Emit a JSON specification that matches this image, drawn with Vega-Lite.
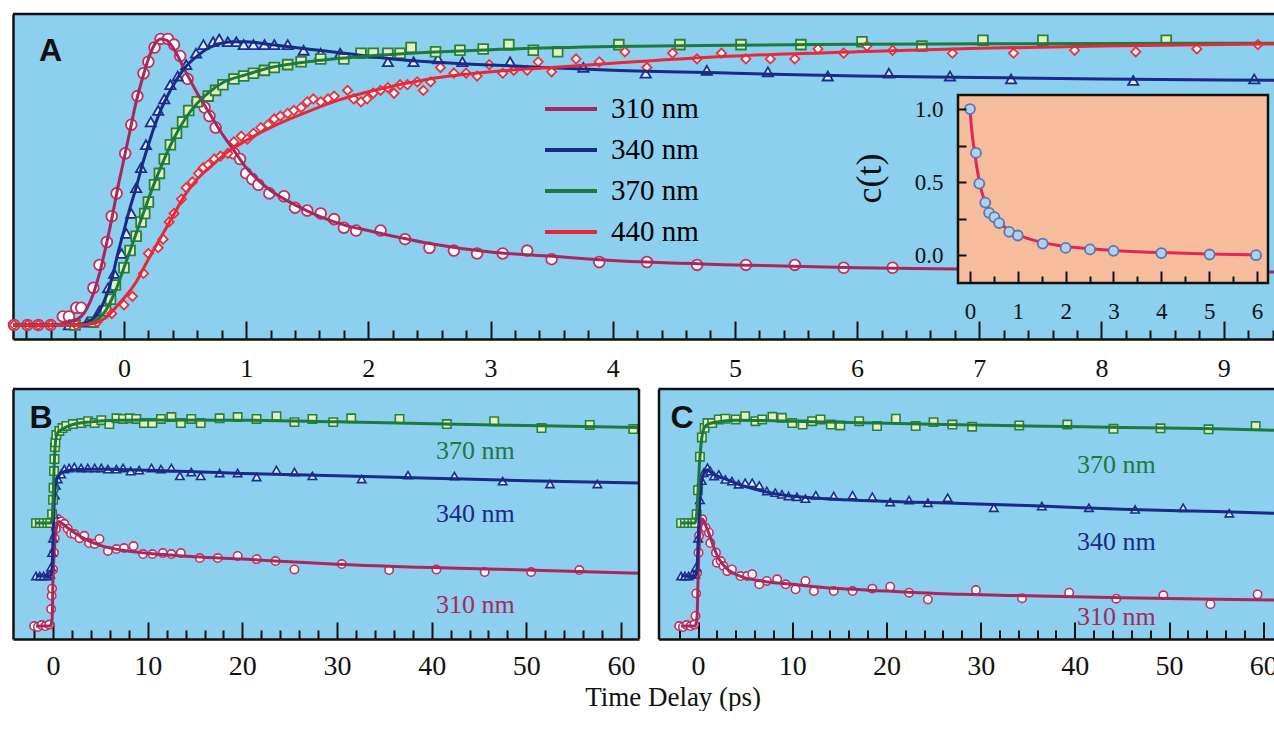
{
"$schema": "https://vega.github.io/schema/vega-lite/v6.json",
"background": "white",
"padding": {"left": 5, "top": 12, "right": -4, "bottom": 0},
"config": {
  "font": "Liberation Serif",
  "view": {"stroke": null, "fill": "#8CCFEF"},
  "axis": {"grid": false, "domainColor": "#111111", "domainWidth": 2.5, "tickColor": "#111111", "tickWidth": 2, "tickOpacity": 1, "labelFont": "Liberation Serif", "labelColor": "#111111", "titleFont": "Liberation Serif", "titleColor": "#111111", "labelOverlap": false, "labelFlush": false, "labelBound": false},
  "legend": {"labelFont": "Liberation Serif"}
},
"resolve": {"legend": {"color": "independent"}},
"datasets": {
  "a_pts": [
    {"s":"310 nm","t":-0.9,"v":0},{"s":"310 nm","t":-0.79,"v":0},{"s":"310 nm","t":-0.7,"v":0},{"s":"310 nm","t":-0.6,"v":0},{"s":"310 nm","t":-0.5,"v":0.03},{"s":"310 nm","t":-0.45,"v":0.03},{"s":"310 nm","t":-0.39,"v":0.06},{"s":"310 nm","t":-0.35,"v":0.06},{"s":"310 nm","t":-0.25,"v":0.13},{"s":"310 nm","t":-0.2,"v":0.21},{"s":"310 nm","t":-0.14,"v":0.29},{"s":"310 nm","t":-0.1,"v":0.38},{"s":"310 nm","t":-0.06,"v":0.46},{"s":"310 nm","t":0.01,"v":0.6},{"s":"310 nm","t":0.06,"v":0.7},{"s":"310 nm","t":0.11,"v":0.8},{"s":"310 nm","t":0.16,"v":0.88},{"s":"310 nm","t":0.2,"v":0.92},{"s":"310 nm","t":0.25,"v":0.97},{"s":"310 nm","t":0.3,"v":1.0},{"s":"310 nm","t":0.36,"v":1.0},{"s":"310 nm","t":0.41,"v":0.98},{"s":"310 nm","t":0.46,"v":0.94},{"s":"310 nm","t":0.52,"v":0.86},{"s":"310 nm","t":0.6,"v":0.78},{"s":"310 nm","t":0.66,"v":0.76},{"s":"310 nm","t":0.7,"v":0.73},{"s":"310 nm","t":0.75,"v":0.69},{"s":"310 nm","t":0.9,"v":0.6},{"s":"310 nm","t":0.95,"v":0.58},{"s":"310 nm","t":1.0,"v":0.53},{"s":"310 nm","t":1.05,"v":0.51},{"s":"310 nm","t":1.1,"v":0.49},{"s":"310 nm","t":1.19,"v":0.46},{"s":"310 nm","t":1.31,"v":0.45},{"s":"310 nm","t":1.4,"v":0.41},{"s":"310 nm","t":1.5,"v":0.4},{"s":"310 nm","t":1.61,"v":0.39},{"s":"310 nm","t":1.72,"v":0.37},{"s":"310 nm","t":1.8,"v":0.34},{"s":"310 nm","t":1.9,"v":0.33},{"s":"310 nm","t":2.1,"v":0.33},{"s":"310 nm","t":2.3,"v":0.3},{"s":"310 nm","t":2.5,"v":0.27},{"s":"310 nm","t":2.7,"v":0.26},{"s":"310 nm","t":2.89,"v":0.25},{"s":"310 nm","t":3.1,"v":0.25},{"s":"310 nm","t":3.3,"v":0.26},{"s":"310 nm","t":3.5,"v":0.23},{"s":"310 nm","t":3.89,"v":0.22},{"s":"310 nm","t":4.28,"v":0.22},{"s":"310 nm","t":4.69,"v":0.21},{"s":"310 nm","t":5.09,"v":0.21},{"s":"310 nm","t":5.49,"v":0.21},{"s":"310 nm","t":5.89,"v":0.2},{"s":"310 nm","t":6.29,"v":0.2},
    {"s":"340 nm","t":-0.45,"v":0},{"s":"340 nm","t":-0.3,"v":0.01},{"s":"340 nm","t":-0.2,"v":0.05},{"s":"340 nm","t":-0.13,"v":0.13},{"s":"340 nm","t":-0.08,"v":0.18},{"s":"340 nm","t":-0.02,"v":0.25},{"s":"340 nm","t":0.02,"v":0.32},{"s":"340 nm","t":0.06,"v":0.39},{"s":"340 nm","t":0.1,"v":0.48},{"s":"340 nm","t":0.14,"v":0.55},{"s":"340 nm","t":0.18,"v":0.63},{"s":"340 nm","t":0.22,"v":0.71},{"s":"340 nm","t":0.28,"v":0.75},{"s":"340 nm","t":0.33,"v":0.79},{"s":"340 nm","t":0.38,"v":0.84},{"s":"340 nm","t":0.44,"v":0.87},{"s":"340 nm","t":0.51,"v":0.91},{"s":"340 nm","t":0.59,"v":0.95},{"s":"340 nm","t":0.65,"v":0.98},{"s":"340 nm","t":0.73,"v":0.99},{"s":"340 nm","t":0.78,"v":1.0},{"s":"340 nm","t":0.85,"v":0.99},{"s":"340 nm","t":0.92,"v":0.99},{"s":"340 nm","t":0.98,"v":0.98},{"s":"340 nm","t":1.06,"v":0.98},{"s":"340 nm","t":1.15,"v":0.98},{"s":"340 nm","t":1.23,"v":0.98},{"s":"340 nm","t":1.34,"v":0.98},{"s":"340 nm","t":1.47,"v":0.96},{"s":"340 nm","t":1.61,"v":0.95},{"s":"340 nm","t":1.77,"v":0.95},{"s":"340 nm","t":2.16,"v":0.92},{"s":"340 nm","t":2.37,"v":0.92},{"s":"340 nm","t":2.57,"v":0.93},{"s":"340 nm","t":2.77,"v":0.92},{"s":"340 nm","t":3.16,"v":0.92},{"s":"340 nm","t":3.76,"v":0.9},{"s":"340 nm","t":4.27,"v":0.88},{"s":"340 nm","t":4.77,"v":0.89},{"s":"340 nm","t":5.27,"v":0.885},{"s":"340 nm","t":5.76,"v":0.87},{"s":"340 nm","t":6.26,"v":0.88},{"s":"340 nm","t":6.76,"v":0.87},{"s":"340 nm","t":7.26,"v":0.86},{"s":"340 nm","t":8.26,"v":0.855},{"s":"340 nm","t":9.25,"v":0.86},
    {"s":"370 nm","t":-0.4,"v":0},{"s":"370 nm","t":-0.25,"v":0.01},{"s":"370 nm","t":-0.15,"v":0.05},{"s":"370 nm","t":-0.11,"v":0.09},{"s":"370 nm","t":-0.07,"v":0.14},{"s":"370 nm","t":0.0,"v":0.2},{"s":"370 nm","t":0.05,"v":0.26},{"s":"370 nm","t":0.1,"v":0.31},{"s":"370 nm","t":0.14,"v":0.36},{"s":"370 nm","t":0.17,"v":0.39},{"s":"370 nm","t":0.2,"v":0.43},{"s":"370 nm","t":0.25,"v":0.49},{"s":"370 nm","t":0.29,"v":0.53},{"s":"370 nm","t":0.33,"v":0.58},{"s":"370 nm","t":0.38,"v":0.63},{"s":"370 nm","t":0.43,"v":0.67},{"s":"370 nm","t":0.48,"v":0.71},{"s":"370 nm","t":0.53,"v":0.75},{"s":"370 nm","t":0.6,"v":0.78},{"s":"370 nm","t":0.69,"v":0.8},{"s":"370 nm","t":0.75,"v":0.82},{"s":"370 nm","t":0.81,"v":0.84},{"s":"370 nm","t":0.9,"v":0.86},{"s":"370 nm","t":0.98,"v":0.87},{"s":"370 nm","t":1.06,"v":0.88},{"s":"370 nm","t":1.15,"v":0.89},{"s":"370 nm","t":1.23,"v":0.9},{"s":"370 nm","t":1.34,"v":0.91},{"s":"370 nm","t":1.45,"v":0.92},{"s":"370 nm","t":1.61,"v":0.93},{"s":"370 nm","t":1.8,"v":0.93},{"s":"370 nm","t":1.94,"v":0.95},{"s":"370 nm","t":2.04,"v":0.95},{"s":"370 nm","t":2.16,"v":0.95},{"s":"370 nm","t":2.26,"v":0.95},{"s":"370 nm","t":2.35,"v":0.97},{"s":"370 nm","t":2.55,"v":0.955},{"s":"370 nm","t":2.75,"v":0.96},{"s":"370 nm","t":2.94,"v":0.965},{"s":"370 nm","t":3.15,"v":0.98},{"s":"370 nm","t":3.35,"v":0.96},{"s":"370 nm","t":3.55,"v":0.955},{"s":"370 nm","t":4.05,"v":0.98},{"s":"370 nm","t":4.55,"v":0.98},{"s":"370 nm","t":5.05,"v":0.98},{"s":"370 nm","t":5.54,"v":0.98},{"s":"370 nm","t":6.04,"v":0.99},{"s":"370 nm","t":6.53,"v":0.975},{"s":"370 nm","t":7.03,"v":0.995},{"s":"370 nm","t":7.52,"v":0.995},{"s":"370 nm","t":8.53,"v":0.995},
    {"s":"440 nm","t":-0.9,"v":0},{"s":"440 nm","t":-0.79,"v":0},{"s":"440 nm","t":-0.7,"v":0},{"s":"440 nm","t":-0.6,"v":0},{"s":"440 nm","t":-0.39,"v":0},{"s":"440 nm","t":-0.22,"v":0.01},{"s":"440 nm","t":-0.1,"v":0.04},{"s":"440 nm","t":0.0,"v":0.07},{"s":"440 nm","t":0.07,"v":0.1},{"s":"440 nm","t":0.16,"v":0.18},{"s":"440 nm","t":0.2,"v":0.25},{"s":"440 nm","t":0.28,"v":0.27},{"s":"440 nm","t":0.32,"v":0.3},{"s":"440 nm","t":0.37,"v":0.36},{"s":"440 nm","t":0.41,"v":0.39},{"s":"440 nm","t":0.47,"v":0.44},{"s":"440 nm","t":0.51,"v":0.48},{"s":"440 nm","t":0.56,"v":0.5},{"s":"440 nm","t":0.61,"v":0.53},{"s":"440 nm","t":0.65,"v":0.55},{"s":"440 nm","t":0.69,"v":0.56},{"s":"440 nm","t":0.74,"v":0.58},{"s":"440 nm","t":0.79,"v":0.59},{"s":"440 nm","t":0.85,"v":0.6},{"s":"440 nm","t":0.9,"v":0.64},{"s":"440 nm","t":0.96,"v":0.66},{"s":"440 nm","t":1.01,"v":0.65},{"s":"440 nm","t":1.06,"v":0.67},{"s":"440 nm","t":1.12,"v":0.69},{"s":"440 nm","t":1.18,"v":0.7},{"s":"440 nm","t":1.23,"v":0.72},{"s":"440 nm","t":1.28,"v":0.73},{"s":"440 nm","t":1.34,"v":0.74},{"s":"440 nm","t":1.39,"v":0.75},{"s":"440 nm","t":1.45,"v":0.76},{"s":"440 nm","t":1.5,"v":0.78},{"s":"440 nm","t":1.55,"v":0.79},{"s":"440 nm","t":1.61,"v":0.78},{"s":"440 nm","t":1.67,"v":0.79},{"s":"440 nm","t":1.72,"v":0.8},{"s":"440 nm","t":1.83,"v":0.82},{"s":"440 nm","t":1.88,"v":0.79},{"s":"440 nm","t":1.94,"v":0.78},{"s":"440 nm","t":1.99,"v":0.79},{"s":"440 nm","t":2.04,"v":0.81},{"s":"440 nm","t":2.1,"v":0.82},{"s":"440 nm","t":2.16,"v":0.83},{"s":"440 nm","t":2.21,"v":0.81},{"s":"440 nm","t":2.26,"v":0.84},{"s":"440 nm","t":2.32,"v":0.84},{"s":"440 nm","t":2.4,"v":0.85},{"s":"440 nm","t":2.45,"v":0.82},{"s":"440 nm","t":2.51,"v":0.85},{"s":"440 nm","t":2.59,"v":0.9},{"s":"440 nm","t":2.7,"v":0.88},{"s":"440 nm","t":2.8,"v":0.88},{"s":"440 nm","t":2.89,"v":0.87},{"s":"440 nm","t":2.99,"v":0.91},{"s":"440 nm","t":3.1,"v":0.88},{"s":"440 nm","t":3.19,"v":0.89},{"s":"440 nm","t":3.3,"v":0.89},{"s":"440 nm","t":3.39,"v":0.92},{"s":"440 nm","t":3.5,"v":0.885},{"s":"440 nm","t":3.7,"v":0.93},{"s":"440 nm","t":3.89,"v":0.92},{"s":"440 nm","t":4.1,"v":0.955},{"s":"440 nm","t":4.28,"v":0.9},{"s":"440 nm","t":4.49,"v":0.95},{"s":"440 nm","t":4.69,"v":0.93},{"s":"440 nm","t":4.89,"v":0.95},{"s":"440 nm","t":5.09,"v":0.93},{"s":"440 nm","t":5.29,"v":0.93},{"s":"440 nm","t":5.49,"v":0.93},{"s":"440 nm","t":5.68,"v":0.965},{"s":"440 nm","t":5.89,"v":0.95},{"s":"440 nm","t":6.08,"v":0.975},{"s":"440 nm","t":6.29,"v":0.96},{"s":"440 nm","t":6.78,"v":0.95},{"s":"440 nm","t":7.28,"v":0.95},{"s":"440 nm","t":7.78,"v":0.96},{"s":"440 nm","t":8.28,"v":0.955},{"s":"440 nm","t":8.78,"v":0.965},{"s":"440 nm","t":9.28,"v":0.98}
  ],
  "a_fit": [
    {"s":"310 nm","t":-0.908,"v":0},{"s":"310 nm","t":-0.6,"v":0},{"s":"310 nm","t":-0.45,"v":0.01},{"s":"310 nm","t":-0.35,"v":0.03},{"s":"310 nm","t":-0.3,"v":0.06},{"s":"310 nm","t":-0.25,"v":0.11},{"s":"310 nm","t":-0.2,"v":0.18},{"s":"310 nm","t":-0.15,"v":0.27},{"s":"310 nm","t":-0.1,"v":0.37},{"s":"310 nm","t":-0.05,"v":0.48},{"s":"310 nm","t":0,"v":0.58},{"s":"310 nm","t":0.05,"v":0.68},{"s":"310 nm","t":0.1,"v":0.78},{"s":"310 nm","t":0.15,"v":0.86},{"s":"310 nm","t":0.2,"v":0.93},{"s":"310 nm","t":0.25,"v":0.98},{"s":"310 nm","t":0.3,"v":1.0},{"s":"310 nm","t":0.35,"v":0.995},{"s":"310 nm","t":0.4,"v":0.97},{"s":"310 nm","t":0.5,"v":0.89},{"s":"310 nm","t":0.6,"v":0.81},{"s":"310 nm","t":0.7,"v":0.74},{"s":"310 nm","t":0.8,"v":0.67},{"s":"310 nm","t":0.9,"v":0.61},{"s":"310 nm","t":1.0,"v":0.55},{"s":"310 nm","t":1.2,"v":0.47},{"s":"310 nm","t":1.4,"v":0.42},{"s":"310 nm","t":1.6,"v":0.38},{"s":"310 nm","t":1.8,"v":0.35},{"s":"310 nm","t":2.0,"v":0.33},{"s":"310 nm","t":2.5,"v":0.285},{"s":"310 nm","t":3.0,"v":0.255},{"s":"310 nm","t":3.5,"v":0.24},{"s":"310 nm","t":4.0,"v":0.225},{"s":"310 nm","t":5.0,"v":0.21},{"s":"310 nm","t":6.0,"v":0.2},{"s":"310 nm","t":7.0,"v":0.195},{"s":"310 nm","t":8.0,"v":0.19},{"s":"310 nm","t":9.42,"v":0.185},
    {"s":"340 nm","t":-0.908,"v":0},{"s":"340 nm","t":-0.4,"v":0},{"s":"340 nm","t":-0.3,"v":0.01},{"s":"340 nm","t":-0.2,"v":0.05},{"s":"340 nm","t":-0.1,"v":0.16},{"s":"340 nm","t":-0.05,"v":0.25},{"s":"340 nm","t":0,"v":0.33},{"s":"340 nm","t":0.05,"v":0.41},{"s":"340 nm","t":0.1,"v":0.48},{"s":"340 nm","t":0.15,"v":0.56},{"s":"340 nm","t":0.2,"v":0.63},{"s":"340 nm","t":0.25,"v":0.695},{"s":"340 nm","t":0.3,"v":0.75},{"s":"340 nm","t":0.35,"v":0.795},{"s":"340 nm","t":0.4,"v":0.835},{"s":"340 nm","t":0.5,"v":0.9},{"s":"340 nm","t":0.6,"v":0.94},{"s":"340 nm","t":0.7,"v":0.97},{"s":"340 nm","t":0.8,"v":0.985},{"s":"340 nm","t":0.9,"v":0.99},{"s":"340 nm","t":1.0,"v":0.99},{"s":"340 nm","t":1.2,"v":0.98},{"s":"340 nm","t":1.5,"v":0.965},{"s":"340 nm","t":1.8,"v":0.95},{"s":"340 nm","t":2.2,"v":0.93},{"s":"340 nm","t":2.7,"v":0.915},{"s":"340 nm","t":3.2,"v":0.905},{"s":"340 nm","t":4.0,"v":0.89},{"s":"340 nm","t":5.0,"v":0.88},{"s":"340 nm","t":6.0,"v":0.87},{"s":"340 nm","t":7.0,"v":0.865},{"s":"340 nm","t":8.0,"v":0.86},{"s":"340 nm","t":9.42,"v":0.855},
    {"s":"370 nm","t":-0.908,"v":0},{"s":"370 nm","t":-0.35,"v":0},{"s":"370 nm","t":-0.25,"v":0.01},{"s":"370 nm","t":-0.15,"v":0.05},{"s":"370 nm","t":-0.1,"v":0.09},{"s":"370 nm","t":-0.05,"v":0.14},{"s":"370 nm","t":0,"v":0.2},{"s":"370 nm","t":0.05,"v":0.26},{"s":"370 nm","t":0.1,"v":0.32},{"s":"370 nm","t":0.15,"v":0.38},{"s":"370 nm","t":0.2,"v":0.44},{"s":"370 nm","t":0.3,"v":0.55},{"s":"370 nm","t":0.4,"v":0.645},{"s":"370 nm","t":0.5,"v":0.72},{"s":"370 nm","t":0.6,"v":0.775},{"s":"370 nm","t":0.7,"v":0.815},{"s":"370 nm","t":0.8,"v":0.845},{"s":"370 nm","t":1.0,"v":0.875},{"s":"370 nm","t":1.2,"v":0.9},{"s":"370 nm","t":1.5,"v":0.92},{"s":"370 nm","t":2.0,"v":0.94},{"s":"370 nm","t":2.5,"v":0.953},{"s":"370 nm","t":3.0,"v":0.962},{"s":"370 nm","t":4.0,"v":0.973},{"s":"370 nm","t":5.0,"v":0.978},{"s":"370 nm","t":6.0,"v":0.981},{"s":"370 nm","t":7.0,"v":0.983},{"s":"370 nm","t":8.0,"v":0.984},{"s":"370 nm","t":9.42,"v":0.985},
    {"s":"440 nm","t":-0.908,"v":0},{"s":"440 nm","t":-0.35,"v":0},{"s":"440 nm","t":-0.25,"v":0.005},{"s":"440 nm","t":-0.15,"v":0.025},{"s":"440 nm","t":-0.05,"v":0.07},{"s":"440 nm","t":0.05,"v":0.12},{"s":"440 nm","t":0.1,"v":0.15},{"s":"440 nm","t":0.15,"v":0.19},{"s":"440 nm","t":0.2,"v":0.23},{"s":"440 nm","t":0.3,"v":0.305},{"s":"440 nm","t":0.4,"v":0.38},{"s":"440 nm","t":0.5,"v":0.455},{"s":"440 nm","t":0.6,"v":0.51},{"s":"440 nm","t":0.7,"v":0.55},{"s":"440 nm","t":0.85,"v":0.605},{"s":"440 nm","t":1.0,"v":0.645},{"s":"440 nm","t":1.25,"v":0.7},{"s":"440 nm","t":1.5,"v":0.745},{"s":"440 nm","t":1.75,"v":0.785},{"s":"440 nm","t":2.0,"v":0.815},{"s":"440 nm","t":2.5,"v":0.86},{"s":"440 nm","t":3.0,"v":0.885},{"s":"440 nm","t":3.5,"v":0.9},{"s":"440 nm","t":4.0,"v":0.915},{"s":"440 nm","t":5.0,"v":0.94},{"s":"440 nm","t":6.0,"v":0.955},{"s":"440 nm","t":7.0,"v":0.967},{"s":"440 nm","t":8.0,"v":0.975},{"s":"440 nm","t":9.42,"v":0.982}
  ],
  "inset_pts": [
    {"t":0,"v":1.0},{"t":0.125,"v":0.7},{"t":0.195,"v":0.49},{"t":0.32,"v":0.36},{"t":0.4,"v":0.29},{"t":0.51,"v":0.26},{"t":0.61,"v":0.22},{"t":0.82,"v":0.16},{"t":1.0,"v":0.135},{"t":1.52,"v":0.08},{"t":2.0,"v":0.05},{"t":2.51,"v":0.04},{"t":3.0,"v":0.03},{"t":4.0,"v":0.015},{"t":5.01,"v":0.005},{"t":5.98,"v":0.0}
  ],
  "inset_fit": [
    {"t":0,"v":1.0},{"t":0.03,"v":0.88},{"t":0.06,"v":0.79},{"t":0.1,"v":0.7},{"t":0.15,"v":0.59},{"t":0.2,"v":0.5},{"t":0.25,"v":0.43},{"t":0.3,"v":0.38},{"t":0.4,"v":0.31},{"t":0.5,"v":0.265},{"t":0.6,"v":0.23},{"t":0.8,"v":0.175},{"t":1.0,"v":0.14},{"t":1.25,"v":0.11},{"t":1.5,"v":0.088},{"t":2.0,"v":0.06},{"t":2.5,"v":0.045},{"t":3.0,"v":0.033},{"t":4.0,"v":0.018},{"t":5.0,"v":0.008},{"t":6.0,"v":0.002}
  ],
  "b_pts": [
    {"s":"310 nm","t":-2.0,"v":0.054},{"s":"310 nm","t":-1.6,"v":0.05},{"s":"310 nm","t":-1.2,"v":0.058},{"s":"310 nm","t":-0.8,"v":0.054},{"s":"310 nm","t":-0.4,"v":0.06},{"s":"310 nm","t":-0.2,"v":0.125},{"s":"310 nm","t":-0.15,"v":0.18},{"s":"310 nm","t":-0.1,"v":0.21},{"s":"310 nm","t":0.0,"v":0.29},{"s":"310 nm","t":0.1,"v":0.36},{"s":"310 nm","t":0.18,"v":0.42},{"s":"310 nm","t":0.3,"v":0.46},{"s":"310 nm","t":0.5,"v":0.5},{"s":"310 nm","t":0.85,"v":0.49},{"s":"310 nm","t":1.2,"v":0.48},{"s":"310 nm","t":1.55,"v":0.46},{"s":"310 nm","t":1.9,"v":0.44},{"s":"310 nm","t":2.25,"v":0.4375},{"s":"310 nm","t":2.8,"v":0.42},{"s":"310 nm","t":3.3,"v":0.43},{"s":"310 nm","t":3.8,"v":0.4},{"s":"310 nm","t":4.4,"v":0.396},{"s":"310 nm","t":4.9,"v":0.417},{"s":"310 nm","t":5.8,"v":0.367},{"s":"310 nm","t":6.7,"v":0.375},{"s":"310 nm","t":7.5,"v":0.379},{"s":"310 nm","t":8.5,"v":0.3875},{"s":"310 nm","t":9.5,"v":0.354},{"s":"310 nm","t":10.5,"v":0.354},{"s":"310 nm","t":11.6,"v":0.358},{"s":"310 nm","t":12.5,"v":0.354},{"s":"310 nm","t":13.5,"v":0.358},{"s":"310 nm","t":15.5,"v":0.3375},{"s":"310 nm","t":17.4,"v":0.3375},{"s":"310 nm","t":19.5,"v":0.346},{"s":"310 nm","t":21.5,"v":0.333},{"s":"310 nm","t":23.5,"v":0.325},{"s":"310 nm","t":25.5,"v":0.29},{"s":"310 nm","t":30.5,"v":0.3125},{"s":"310 nm","t":35.5,"v":0.2875},{"s":"310 nm","t":40.5,"v":0.29},{"s":"310 nm","t":45.6,"v":0.279},{"s":"310 nm","t":50.5,"v":0.279},{"s":"310 nm","t":55.6,"v":0.2875},
    {"s":"340 nm","t":-1.8,"v":0.2625},{"s":"340 nm","t":-1.4,"v":0.2625},{"s":"340 nm","t":-1.0,"v":0.2625},{"s":"340 nm","t":-0.6,"v":0.2625},{"s":"340 nm","t":-0.3,"v":0.27},{"s":"340 nm","t":-0.2,"v":0.3},{"s":"340 nm","t":-0.1,"v":0.36},{"s":"340 nm","t":0.0,"v":0.42},{"s":"340 nm","t":0.1,"v":0.52},{"s":"340 nm","t":0.2,"v":0.6},{"s":"340 nm","t":0.3,"v":0.64},{"s":"340 nm","t":0.5,"v":0.667},{"s":"340 nm","t":0.85,"v":0.6875},{"s":"340 nm","t":1.2,"v":0.708},{"s":"340 nm","t":1.7,"v":0.7125},{"s":"340 nm","t":2.25,"v":0.717},{"s":"340 nm","t":2.96,"v":0.7125},{"s":"340 nm","t":3.67,"v":0.7125},{"s":"340 nm","t":4.4,"v":0.7125},{"s":"340 nm","t":5.1,"v":0.7125},{"s":"340 nm","t":5.8,"v":0.708},{"s":"340 nm","t":6.7,"v":0.708},{"s":"340 nm","t":7.4,"v":0.7125},{"s":"340 nm","t":8.2,"v":0.7},{"s":"340 nm","t":9.1,"v":0.704},{"s":"340 nm","t":10.4,"v":0.7125},{"s":"340 nm","t":11.4,"v":0.708},{"s":"340 nm","t":12.5,"v":0.7125},{"s":"340 nm","t":13.4,"v":0.68},{"s":"340 nm","t":14.6,"v":0.696},{"s":"340 nm","t":15.6,"v":0.68},{"s":"340 nm","t":17.6,"v":0.692},{"s":"340 nm","t":19.5,"v":0.692},{"s":"340 nm","t":21.5,"v":0.675},{"s":"340 nm","t":23.6,"v":0.704},{"s":"340 nm","t":25.5,"v":0.696},{"s":"340 nm","t":27.4,"v":0.68},{"s":"340 nm","t":32.6,"v":0.667},{"s":"340 nm","t":37.5,"v":0.683},{"s":"340 nm","t":42.4,"v":0.679},{"s":"340 nm","t":47.5,"v":0.658},{"s":"340 nm","t":52.5,"v":0.646},{"s":"340 nm","t":57.5,"v":0.646},
    {"s":"370 nm","t":-1.8,"v":0.483},{"s":"370 nm","t":-1.4,"v":0.483},{"s":"370 nm","t":-1.0,"v":0.483},{"s":"370 nm","t":-0.6,"v":0.483},{"s":"370 nm","t":-0.3,"v":0.483},{"s":"370 nm","t":-0.1,"v":0.52},{"s":"370 nm","t":0.0,"v":0.58},{"s":"370 nm","t":0.05,"v":0.63},{"s":"370 nm","t":0.1,"v":0.7},{"s":"370 nm","t":0.15,"v":0.75},{"s":"370 nm","t":0.2,"v":0.8},{"s":"370 nm","t":0.25,"v":0.82},{"s":"370 nm","t":0.35,"v":0.85},{"s":"370 nm","t":0.67,"v":0.867},{"s":"370 nm","t":1.0,"v":0.879},{"s":"370 nm","t":1.4,"v":0.888},{"s":"370 nm","t":2.1,"v":0.896},{"s":"370 nm","t":3.0,"v":0.9},{"s":"370 nm","t":3.7,"v":0.908},{"s":"370 nm","t":4.4,"v":0.9},{"s":"370 nm","t":5.1,"v":0.912},{"s":"370 nm","t":5.95,"v":0.896},{"s":"370 nm","t":6.7,"v":0.92},{"s":"370 nm","t":7.4,"v":0.917},{"s":"370 nm","t":8.1,"v":0.92},{"s":"370 nm","t":8.8,"v":0.917},{"s":"370 nm","t":9.6,"v":0.9},{"s":"370 nm","t":10.5,"v":0.9},{"s":"370 nm","t":11.4,"v":0.917},{"s":"370 nm","t":12.5,"v":0.925},{"s":"370 nm","t":13.5,"v":0.9},{"s":"370 nm","t":14.6,"v":0.917},{"s":"370 nm","t":15.6,"v":0.9},{"s":"370 nm","t":17.6,"v":0.92},{"s":"370 nm","t":19.5,"v":0.925},{"s":"370 nm","t":21.5,"v":0.917},{"s":"370 nm","t":23.6,"v":0.929},{"s":"370 nm","t":25.5,"v":0.904},{"s":"370 nm","t":27.4,"v":0.917},{"s":"370 nm","t":29.6,"v":0.904},{"s":"370 nm","t":31.5,"v":0.92},{"s":"370 nm","t":36.6,"v":0.917},{"s":"370 nm","t":41.6,"v":0.896},{"s":"370 nm","t":46.6,"v":0.908},{"s":"370 nm","t":51.6,"v":0.879},{"s":"370 nm","t":56.7,"v":0.892},{"s":"370 nm","t":61.3,"v":0.875}
  ],
  "b_fit": [
    {"s":"310 nm","t":-1.8,"v":0.054},{"s":"310 nm","t":-0.3,"v":0.054},{"s":"310 nm","t":-0.1,"v":0.08},{"s":"310 nm","t":0,"v":0.25},{"s":"310 nm","t":0.15,"v":0.38},{"s":"310 nm","t":0.3,"v":0.45},{"s":"310 nm","t":0.6,"v":0.49},{"s":"310 nm","t":1.0,"v":0.48},{"s":"310 nm","t":1.5,"v":0.465},{"s":"310 nm","t":2,"v":0.45},{"s":"310 nm","t":3,"v":0.425},{"s":"310 nm","t":4,"v":0.405},{"s":"310 nm","t":5,"v":0.39},{"s":"310 nm","t":7,"v":0.372},{"s":"310 nm","t":10,"v":0.357},{"s":"310 nm","t":15,"v":0.343},{"s":"310 nm","t":20,"v":0.333},{"s":"310 nm","t":25,"v":0.322},{"s":"310 nm","t":30,"v":0.312},{"s":"310 nm","t":40,"v":0.298},{"s":"310 nm","t":50,"v":0.288},{"s":"310 nm","t":61.9,"v":0.274},
    {"s":"340 nm","t":-1.8,"v":0.2625},{"s":"340 nm","t":-0.3,"v":0.2625},{"s":"340 nm","t":-0.1,"v":0.3},{"s":"340 nm","t":0,"v":0.42},{"s":"340 nm","t":0.1,"v":0.55},{"s":"340 nm","t":0.2,"v":0.62},{"s":"340 nm","t":0.4,"v":0.665},{"s":"340 nm","t":0.7,"v":0.685},{"s":"340 nm","t":1,"v":0.695},{"s":"340 nm","t":2,"v":0.705},{"s":"340 nm","t":4,"v":0.708},{"s":"340 nm","t":6,"v":0.707},{"s":"340 nm","t":10,"v":0.703},{"s":"340 nm","t":15,"v":0.697},{"s":"340 nm","t":20,"v":0.69},{"s":"340 nm","t":30,"v":0.68},{"s":"340 nm","t":40,"v":0.67},{"s":"340 nm","t":50,"v":0.66},{"s":"340 nm","t":61.9,"v":0.65},
    {"s":"370 nm","t":-1.8,"v":0.483},{"s":"370 nm","t":-0.3,"v":0.483},{"s":"370 nm","t":-0.1,"v":0.5},{"s":"370 nm","t":0,"v":0.58},{"s":"370 nm","t":0.1,"v":0.7},{"s":"370 nm","t":0.2,"v":0.79},{"s":"370 nm","t":0.3,"v":0.835},{"s":"370 nm","t":0.5,"v":0.86},{"s":"370 nm","t":1,"v":0.875},{"s":"370 nm","t":2,"v":0.893},{"s":"370 nm","t":4,"v":0.905},{"s":"370 nm","t":7,"v":0.912},{"s":"370 nm","t":10,"v":0.913},{"s":"370 nm","t":20,"v":0.912},{"s":"370 nm","t":30,"v":0.905},{"s":"370 nm","t":40,"v":0.897},{"s":"370 nm","t":50,"v":0.89},{"s":"370 nm","t":61.9,"v":0.882}
  ],
  "c_pts": [
    {"s":"310 nm","t":-2.0,"v":0.054},{"s":"310 nm","t":-1.6,"v":0.05},{"s":"310 nm","t":-1.2,"v":0.058},{"s":"310 nm","t":-0.8,"v":0.054},{"s":"310 nm","t":-0.4,"v":0.06},{"s":"310 nm","t":-0.27,"v":0.096},{"s":"310 nm","t":-0.2,"v":0.19},{"s":"310 nm","t":-0.1,"v":0.276},{"s":"310 nm","t":0.05,"v":0.36},{"s":"310 nm","t":0.1,"v":0.43},{"s":"310 nm","t":0.45,"v":0.499},{"s":"310 nm","t":0.8,"v":0.464},{"s":"310 nm","t":1.15,"v":0.443},{"s":"310 nm","t":1.3,"v":0.4},{"s":"310 nm","t":1.9,"v":0.36},{"s":"310 nm","t":2.0,"v":0.318},{"s":"310 nm","t":2.4,"v":0.325},{"s":"310 nm","t":2.7,"v":0.304},{"s":"310 nm","t":3.1,"v":0.283},{"s":"310 nm","t":3.6,"v":0.29},{"s":"310 nm","t":4.5,"v":0.2625},{"s":"310 nm","t":5.2,"v":0.2625},{"s":"310 nm","t":5.75,"v":0.27},{"s":"310 nm","t":6.5,"v":0.228},{"s":"310 nm","t":7.3,"v":0.242},{"s":"310 nm","t":8.4,"v":0.249},{"s":"310 nm","t":9.3,"v":0.228},{"s":"310 nm","t":10.35,"v":0.207},{"s":"310 nm","t":11.4,"v":0.242},{"s":"310 nm","t":12.3,"v":0.2},{"s":"310 nm","t":14.4,"v":0.2},{"s":"310 nm","t":16.4,"v":0.2},{"s":"310 nm","t":18.5,"v":0.21},{"s":"310 nm","t":20.4,"v":0.218},{"s":"310 nm","t":22.4,"v":0.193},{"s":"310 nm","t":24.4,"v":0.165},{"s":"310 nm","t":29.5,"v":0.204},{"s":"310 nm","t":34.4,"v":0.17},{"s":"310 nm","t":39.4,"v":0.193},{"s":"310 nm","t":44.4,"v":0.168},{"s":"310 nm","t":49.4,"v":0.182},{"s":"310 nm","t":54.4,"v":0.145},{"s":"310 nm","t":59.4,"v":0.186},
    {"s":"340 nm","t":-1.8,"v":0.2625},{"s":"340 nm","t":-1.4,"v":0.2625},{"s":"340 nm","t":-1.0,"v":0.2625},{"s":"340 nm","t":-0.6,"v":0.27},{"s":"340 nm","t":-0.3,"v":0.27},{"s":"340 nm","t":-0.2,"v":0.3},{"s":"340 nm","t":0.0,"v":0.42},{"s":"340 nm","t":0.2,"v":0.58},{"s":"340 nm","t":0.4,"v":0.66},{"s":"340 nm","t":0.6,"v":0.693},{"s":"340 nm","t":1.0,"v":0.714},{"s":"340 nm","t":1.3,"v":0.7},{"s":"340 nm","t":1.7,"v":0.679},{"s":"340 nm","t":2.2,"v":0.686},{"s":"340 nm","t":2.9,"v":0.665},{"s":"340 nm","t":3.6,"v":0.658},{"s":"340 nm","t":4.3,"v":0.645},{"s":"340 nm","t":5.0,"v":0.651},{"s":"340 nm","t":5.75,"v":0.651},{"s":"340 nm","t":6.5,"v":0.64},{"s":"340 nm","t":7.3,"v":0.617},{"s":"340 nm","t":8.2,"v":0.61},{"s":"340 nm","t":8.9,"v":0.603},{"s":"340 nm","t":9.6,"v":0.596},{"s":"340 nm","t":10.5,"v":0.593},{"s":"340 nm","t":11.4,"v":0.585},{"s":"340 nm","t":12.5,"v":0.599},{"s":"340 nm","t":14.4,"v":0.596},{"s":"340 nm","t":16.4,"v":0.599},{"s":"340 nm","t":18.5,"v":0.593},{"s":"340 nm","t":20.4,"v":0.571},{"s":"340 nm","t":22.4,"v":0.579},{"s":"340 nm","t":24.4,"v":0.568},{"s":"340 nm","t":26.5,"v":0.589},{"s":"340 nm","t":31.4,"v":0.547},{"s":"340 nm","t":36.5,"v":0.554},{"s":"340 nm","t":41.5,"v":0.547},{"s":"340 nm","t":46.4,"v":0.54},{"s":"340 nm","t":51.5,"v":0.547},{"s":"340 nm","t":56.4,"v":0.524},
    {"s":"370 nm","t":-1.8,"v":0.483},{"s":"370 nm","t":-1.4,"v":0.483},{"s":"370 nm","t":-1.0,"v":0.483},{"s":"370 nm","t":-0.6,"v":0.483},{"s":"370 nm","t":-0.3,"v":0.483},{"s":"370 nm","t":-0.15,"v":0.52},{"s":"370 nm","t":0.0,"v":0.62},{"s":"370 nm","t":0.2,"v":0.76},{"s":"370 nm","t":0.4,"v":0.84},{"s":"370 nm","t":0.7,"v":0.88},{"s":"370 nm","t":1.0,"v":0.9},{"s":"370 nm","t":1.5,"v":0.9},{"s":"370 nm","t":2.2,"v":0.915},{"s":"370 nm","t":2.9,"v":0.918},{"s":"370 nm","t":4.0,"v":0.915},{"s":"370 nm","t":5.0,"v":0.929},{"s":"370 nm","t":6.1,"v":0.908},{"s":"370 nm","t":6.8,"v":0.915},{"s":"370 nm","t":7.9,"v":0.926},{"s":"370 nm","t":8.9,"v":0.922},{"s":"370 nm","t":10.0,"v":0.9},{"s":"370 nm","t":11.1,"v":0.894},{"s":"370 nm","t":12.1,"v":0.908},{"s":"370 nm","t":13.0,"v":0.915},{"s":"370 nm","t":14.1,"v":0.894},{"s":"370 nm","t":15.1,"v":0.89},{"s":"370 nm","t":17.1,"v":0.908},{"s":"370 nm","t":19.0,"v":0.8875},{"s":"370 nm","t":21.0,"v":0.918},{"s":"370 nm","t":23.1,"v":0.8875},{"s":"370 nm","t":25.0,"v":0.904},{"s":"370 nm","t":27.0,"v":0.894},{"s":"370 nm","t":29.1,"v":0.885},{"s":"370 nm","t":34.1,"v":0.89},{"s":"370 nm","t":39.2,"v":0.894},{"s":"370 nm","t":44.1,"v":0.876},{"s":"370 nm","t":49.1,"v":0.878},{"s":"370 nm","t":54.2,"v":0.874},{"s":"370 nm","t":59.2,"v":0.8875}
  ],
  "c_fit": [
    {"s":"310 nm","t":-1.8,"v":0.054},{"s":"310 nm","t":-0.3,"v":0.054},{"s":"310 nm","t":-0.1,"v":0.1},{"s":"310 nm","t":0,"v":0.25},{"s":"310 nm","t":0.2,"v":0.44},{"s":"310 nm","t":0.45,"v":0.5},{"s":"310 nm","t":0.8,"v":0.475},{"s":"310 nm","t":1.2,"v":0.435},{"s":"310 nm","t":1.6,"v":0.39},{"s":"310 nm","t":2.2,"v":0.335},{"s":"310 nm","t":3,"v":0.295},{"s":"310 nm","t":4,"v":0.27},{"s":"310 nm","t":5,"v":0.255},{"s":"310 nm","t":7,"v":0.24},{"s":"310 nm","t":10,"v":0.228},{"s":"310 nm","t":15,"v":0.21},{"s":"310 nm","t":20,"v":0.2},{"s":"310 nm","t":28,"v":0.186},{"s":"310 nm","t":35,"v":0.18},{"s":"310 nm","t":45,"v":0.172},{"s":"310 nm","t":55,"v":0.166},{"s":"310 nm","t":61.2,"v":0.1625},
    {"s":"340 nm","t":-1.8,"v":0.2625},{"s":"340 nm","t":-0.3,"v":0.2625},{"s":"340 nm","t":-0.1,"v":0.3},{"s":"340 nm","t":0,"v":0.4},{"s":"340 nm","t":0.2,"v":0.58},{"s":"340 nm","t":0.5,"v":0.68},{"s":"340 nm","t":1,"v":0.705},{"s":"340 nm","t":1.5,"v":0.69},{"s":"340 nm","t":2.6,"v":0.672},{"s":"340 nm","t":4.3,"v":0.645},{"s":"340 nm","t":6.8,"v":0.617},{"s":"340 nm","t":9.3,"v":0.598},{"s":"340 nm","t":12,"v":0.589},{"s":"340 nm","t":19,"v":0.575},{"s":"340 nm","t":28,"v":0.565},{"s":"340 nm","t":35,"v":0.556},{"s":"340 nm","t":45,"v":0.541},{"s":"340 nm","t":55,"v":0.531},{"s":"340 nm","t":61.2,"v":0.524},
    {"s":"370 nm","t":-1.8,"v":0.483},{"s":"370 nm","t":-0.3,"v":0.483},{"s":"370 nm","t":-0.15,"v":0.52},{"s":"370 nm","t":0,"v":0.62},{"s":"370 nm","t":0.2,"v":0.76},{"s":"370 nm","t":0.4,"v":0.84},{"s":"370 nm","t":0.6,"v":0.875},{"s":"370 nm","t":1,"v":0.895},{"s":"370 nm","t":2,"v":0.905},{"s":"370 nm","t":4,"v":0.912},{"s":"370 nm","t":8,"v":0.91},{"s":"370 nm","t":15,"v":0.903},{"s":"370 nm","t":25,"v":0.895},{"s":"370 nm","t":35,"v":0.888},{"s":"370 nm","t":45,"v":0.882},{"s":"370 nm","t":55,"v":0.876},{"s":"370 nm","t":61.2,"v":0.87}
  ],
  "labels": [
    {"p":"A","k":"letter","txt":"A","t":-0.6,"v":0.956},
    {"p":"B","k":"letter","txt":"B","t":-1.27,"v":0.923},
    {"p":"C","k":"letter","txt":"C","t":-1.7,"v":0.923},
    {"p":"B","k":"wl","s":"370 nm","txt":"370 nm","t":44.6,"v":0.783},
    {"p":"B","k":"wl","s":"340 nm","txt":"340 nm","t":44.6,"v":0.52},
    {"p":"B","k":"wl","s":"310 nm","txt":"310 nm","t":44.6,"v":0.142},
    {"p":"C","k":"wl","s":"370 nm","txt":"370 nm","t":44.4,"v":0.725},
    {"p":"C","k":"wl","s":"340 nm","txt":"340 nm","t":44.4,"v":0.404},
    {"p":"C","k":"wl","s":"310 nm","txt":"310 nm","t":44.4,"v":0.092}
  ]
},
"bounds": "flush",
"spacing": 50,
"vconcat": [
  {
    "width": 1262, "height": 325,
    "layer": [
      {"layer": [
        {"data": {"name": "a_pts"},
         "mark": {"type": "point", "filled": true, "strokeWidth": 1.8, "opacity": 1},
         "encoding": {
           "x": {"field": "t", "type": "quantitative", "scale": {"domain": [-0.908, 9.42], "nice": false, "zero": false},
                 "axis": {"orient": "bottom", "title": null, "values": [-0.8,-0.6,-0.4,-0.2,0,0.2,0.4,0.6,0.8,1,1.2,1.4,1.6,1.8,2,2.2,2.4,2.6,2.8,3,3.2,3.4,3.6,3.8,4,4.2,4.4,4.6,4.8,5,5.2,5.4,5.6,5.8,6,6.2,6.4,6.6,6.8,7,7.2,7.4,7.6,7.8,8,8.2,8.4,8.6,8.8,9,9.2,9.4], "labelExpr": "abs(datum.value - round(datum.value)) < 0.001 ? format(datum.value, 'd') : ''", "ticks": true, "tickOpacity": 1, "tickSize": {"condition": {"test": "abs(datum.value - round(datum.value)) < 0.001", "value": -18}, "value": -9}, "labelPadding": 34, "labelFontSize": 26, "labelOverlap": false}},
           "y": {"field": "v", "type": "quantitative", "scale": {"domain": [-0.049, 1.087], "nice": false, "zero": false},
                 "axis": {"orient": "left", "title": null, "ticks": false, "labels": false}},
           "shape": {"field": "s", "type": "nominal", "scale": {"domain": ["310 nm","340 nm","370 nm","440 nm"], "range": ["circle","triangle-up","square","diamond"]}, "legend": null},
           "fill": {"field": "s", "type": "nominal", "scale": {"domain": ["310 nm","340 nm","370 nm","440 nm"], "range": ["#FFFFFF","#DCEEF8","#E4F2C2","#FFFFFF"]}, "legend": null},
           "stroke": {"field": "s", "type": "nominal", "scale": {"domain": ["310 nm","340 nm","370 nm","440 nm"], "range": ["#C0305E","#1B2E8C","#2C7F3A","#E83040"]}, "legend": null},
           "size": {"field": "s", "type": "nominal", "scale": {"domain": ["310 nm","340 nm","370 nm","440 nm"], "range": [115, 85, 75, 200]}, "legend": null}
         }},
        {"data": {"name": "a_fit"},
         "mark": {"type": "line", "strokeWidth": 3, "interpolate": "monotone"},
         "encoding": {
           "x": {"field": "t", "type": "quantitative", "scale": {"domain": [-0.908, 9.42], "nice": false, "zero": false},
                 "axis": {"orient": "bottom", "title": null, "values": [-0.8,-0.6,-0.4,-0.2,0,0.2,0.4,0.6,0.8,1,1.2,1.4,1.6,1.8,2,2.2,2.4,2.6,2.8,3,3.2,3.4,3.6,3.8,4,4.2,4.4,4.6,4.8,5,5.2,5.4,5.6,5.8,6,6.2,6.4,6.6,6.8,7,7.2,7.4,7.6,7.8,8,8.2,8.4,8.6,8.8,9,9.2,9.4], "labelExpr": "abs(datum.value - round(datum.value)) < 0.001 ? format(datum.value, 'd') : ''", "ticks": true, "tickOpacity": 1, "tickSize": {"condition": {"test": "abs(datum.value - round(datum.value)) < 0.001", "value": -18}, "value": -9}, "labelPadding": 34, "labelFontSize": 26, "labelOverlap": false}},
           "y": {"field": "v", "type": "quantitative", "scale": {"domain": [-0.049, 1.087], "nice": false, "zero": false},
                 "axis": {"orient": "left", "title": null, "ticks": false, "labels": false}},
           "color": {"field": "s", "type": "nominal", "scale": {"domain": ["310 nm","340 nm","370 nm","440 nm"], "range": ["#A6285C","#1B2A84","#1D7A3B","#E5293A"]},
                     "legend": {"orient": "none", "legendX": 543, "legendY": 80, "title": null, "padding": 0,
                                "symbolType": "M-2,0H2", "symbolSize": 676, "symbolStrokeWidth": 4,
                                "labelFont": "Liberation Serif", "labelFontSize": 29, "labelOffset": 25, "rowPadding": 11,
                                "encode": {"labels": {
                                   "font": {"value": "Liberation Serif"},
                                   "fill": {"condition": [
                                   {"test": "datum.value == '310 nm'", "value": "#A6285C"},
                                   {"test": "datum.value == '340 nm'", "value": "#1B2A84"},
                                   {"test": "datum.value == '370 nm'", "value": "#1D7A3B"}], "value": "#E5293A"}}}}}
         }},
        {"data": {"values": [{}]},
         "mark": {"type": "rule", "color": "#111111", "strokeWidth": 2.5},
         "encoding": {"y": {"datum": 1.087, "type": "quantitative", "scale": {"domain": [-0.049, 1.087], "nice": false, "zero": false},
                 "axis": {"orient": "left", "title": null, "ticks": false, "labels": false}}}},
        {"data": {"name": "labels"},
         "transform": [{"filter": "datum.p == 'A' && datum.k == 'letter'"}],
         "mark": {"type": "text", "font": "Liberation Sans", "fontWeight": "bold", "fontSize": 32, "color": "#111111", "align": "center", "baseline": "middle"},
         "encoding": {
           "x": {"field": "t", "type": "quantitative", "scale": {"domain": [-0.908, 9.42], "nice": false, "zero": false},
                 "axis": {"orient": "bottom", "title": null, "values": [-0.8,-0.6,-0.4,-0.2,0,0.2,0.4,0.6,0.8,1,1.2,1.4,1.6,1.8,2,2.2,2.4,2.6,2.8,3,3.2,3.4,3.6,3.8,4,4.2,4.4,4.6,4.8,5,5.2,5.4,5.6,5.8,6,6.2,6.4,6.6,6.8,7,7.2,7.4,7.6,7.8,8,8.2,8.4,8.6,8.8,9,9.2,9.4], "labelExpr": "abs(datum.value - round(datum.value)) < 0.001 ? format(datum.value, 'd') : ''", "ticks": true, "tickOpacity": 1, "tickSize": {"condition": {"test": "abs(datum.value - round(datum.value)) < 0.001", "value": -18}, "value": -9}, "labelPadding": 34, "labelFontSize": 26, "labelOverlap": false}},
           "y": {"field": "v", "type": "quantitative", "scale": {"domain": [-0.049, 1.087], "nice": false, "zero": false},
                 "axis": {"orient": "left", "title": null, "ticks": false, "labels": false}},
           "text": {"field": "txt"}
         }}
      ]},
      {"layer": [
        {"data": {"values": [{}]},
         "mark": {"type": "rect", "fill": "#F6BD9C", "stroke": "#111111", "strokeWidth": 2.5},
         "encoding": {
           "x": {"datum": -0.25, "type": "quantitative", "scale": {"domain": [-0.25, 6.23], "range": [945, 1255], "nice": false, "zero": false},
                 "axis": {"orient": "bottom", "offset": -56, "title": null, "domain": false, "values": [0,0.5,1,1.5,2,2.5,3,3.5,4,4.5,5,5.5,6], "labelExpr": "datum.value % 1 == 0 ? format(datum.value, 'd') : ''", "ticks": true, "tickOpacity": 1, "tickSize": {"condition": {"test": "datum.value % 1 == 0", "value": -12}, "value": -7}, "labelPadding": 29, "labelFontSize": 23, "labelOverlap": false, "zindex": 2}},
           "x2": {"datum": 6.23},
           "y": {"datum": -0.19, "type": "quantitative", "scale": {"domain": [-0.19, 1.096], "range": [269, 81], "nice": false, "zero": false},
                 "axis": {"orient": "left", "offset": -945, "domain": false, "values": [0,0.25,0.5,0.75,1], "labelExpr": "datum.value % 0.5 == 0 ? format(datum.value, '.1f') : ''", "ticks": true, "tickOpacity": 1, "tickSize": -8, "labelPadding": 23, "labelFontSize": 23, "labelOverlap": false, "zindex": 2, "title": "c(t)", "titleFontSize": 36, "titleFontWeight": "normal", "titleX": -70, "titleY": 164}},
           "y2": {"datum": 1.096}
         }},
        {"data": {"name": "inset_fit"},
         "mark": {"type": "line", "color": "#E2245C", "strokeWidth": 3, "interpolate": "monotone"},
         "encoding": {
           "x": {"field": "t", "type": "quantitative", "scale": {"domain": [-0.25, 6.23], "range": [945, 1255], "nice": false, "zero": false},
                 "axis": {"orient": "bottom", "offset": -56, "title": null, "domain": false, "values": [0,0.5,1,1.5,2,2.5,3,3.5,4,4.5,5,5.5,6], "labelExpr": "datum.value % 1 == 0 ? format(datum.value, 'd') : ''", "ticks": true, "tickOpacity": 1, "tickSize": {"condition": {"test": "datum.value % 1 == 0", "value": -12}, "value": -7}, "labelPadding": 29, "labelFontSize": 23, "labelOverlap": false, "zindex": 2}},
           "y": {"field": "v", "type": "quantitative", "scale": {"domain": [-0.19, 1.096], "range": [269, 81], "nice": false, "zero": false},
                 "axis": {"orient": "left", "offset": -945, "domain": false, "values": [0,0.25,0.5,0.75,1], "labelExpr": "datum.value % 0.5 == 0 ? format(datum.value, '.1f') : ''", "ticks": true, "tickOpacity": 1, "tickSize": -8, "labelPadding": 23, "labelFontSize": 23, "labelOverlap": false, "zindex": 2, "title": "c(t)", "titleFontSize": 36, "titleFontWeight": "normal", "titleX": -70, "titleY": 164}}
         }},
        {"data": {"name": "inset_pts"},
         "mark": {"type": "point", "shape": "circle", "filled": true, "fill": "#B4CFEA", "stroke": "#5877B5", "strokeWidth": 1.8, "size": 100, "opacity": 1},
         "encoding": {
           "x": {"field": "t", "type": "quantitative", "scale": {"domain": [-0.25, 6.23], "range": [945, 1255], "nice": false, "zero": false},
                 "axis": {"orient": "bottom", "offset": -56, "title": null, "domain": false, "values": [0,0.5,1,1.5,2,2.5,3,3.5,4,4.5,5,5.5,6], "labelExpr": "datum.value % 1 == 0 ? format(datum.value, 'd') : ''", "ticks": true, "tickOpacity": 1, "tickSize": {"condition": {"test": "datum.value % 1 == 0", "value": -12}, "value": -7}, "labelPadding": 29, "labelFontSize": 23, "labelOverlap": false, "zindex": 2}},
           "y": {"field": "v", "type": "quantitative", "scale": {"domain": [-0.19, 1.096], "range": [269, 81], "nice": false, "zero": false},
                 "axis": {"orient": "left", "offset": -945, "domain": false, "values": [0,0.25,0.5,0.75,1], "labelExpr": "datum.value % 0.5 == 0 ? format(datum.value, '.1f') : ''", "ticks": true, "tickOpacity": 1, "tickSize": -8, "labelPadding": 23, "labelFontSize": 23, "labelOverlap": false, "zindex": 2, "title": "c(t)", "titleFontSize": 36, "titleFontWeight": "normal", "titleX": -70, "titleY": 164}}
         }}
      ]}
    ],
    "resolve": {"scale": {"x": "independent", "y": "independent"}, "axis": {"x": "independent", "y": "independent"}}
  },
  {
    "spacing": 11.5,
    "title": {"text": "Time Delay (ps)", "orient": "bottom", "anchor": "middle", "font": "Liberation Serif", "fontSize": 27, "fontWeight": "normal", "color": "#111111", "offset": -3, "dx": 27},
    "hconcat": [
      {
        "width": 626, "height": 250,
        "layer": [
          {"data": {"name": "b_pts"},
           "mark": {"type": "point", "filled": true, "strokeWidth": 1.6, "opacity": 1, "size": 70},
           "encoding": {
             "x": {"field": "t", "type": "quantitative", "scale": {"domain": [-4.23, 61.9], "nice": false, "zero": false},
                   "axis": {"orient": "bottom", "title": null, "values": [-2,0,2,4,6,8,10,12,14,16,18,20,22,24,26,28,30,32,34,36,38,40,42,44,46,48,50,52,54,56,58,60], "labelExpr": "datum.value % 10 == 0 ? format(datum.value, 'd') : ''", "ticks": true, "tickOpacity": 1, "tickSize": {"condition": {"test": "datum.value % 10 == 0", "value": -17}, "value": -9}, "labelPadding": 30, "labelFontSize": 28, "labelOverlap": false}},
             "y": {"field": "v", "type": "quantitative", "scale": {"domain": [0, 1.042], "nice": false, "zero": false},
                   "axis": {"orient": "left", "title": null, "ticks": false, "labels": false}},
             "shape": {"field": "s", "type": "nominal", "scale": {"domain": ["310 nm","340 nm","370 nm","440 nm"], "range": ["circle","triangle-up","square","diamond"]}, "legend": null},
             "fill": {"field": "s", "type": "nominal", "scale": {"domain": ["310 nm","340 nm","370 nm","440 nm"], "range": ["#FFFFFF","#DCEEF8","#E4F2C2","#FFFFFF"]}, "legend": null},
             "stroke": {"field": "s", "type": "nominal", "scale": {"domain": ["310 nm","340 nm","370 nm","440 nm"], "range": ["#C0305E","#1B2E8C","#2C7F3A","#E83040"]}, "legend": null}
           }},
          {"data": {"name": "b_fit"},
           "mark": {"type": "line", "strokeWidth": 3, "interpolate": "monotone"},
           "encoding": {
             "x": {"field": "t", "type": "quantitative", "scale": {"domain": [-4.23, 61.9], "nice": false, "zero": false},
                   "axis": {"orient": "bottom", "title": null, "values": [-2,0,2,4,6,8,10,12,14,16,18,20,22,24,26,28,30,32,34,36,38,40,42,44,46,48,50,52,54,56,58,60], "labelExpr": "datum.value % 10 == 0 ? format(datum.value, 'd') : ''", "ticks": true, "tickOpacity": 1, "tickSize": {"condition": {"test": "datum.value % 10 == 0", "value": -17}, "value": -9}, "labelPadding": 30, "labelFontSize": 28, "labelOverlap": false}},
             "y": {"field": "v", "type": "quantitative", "scale": {"domain": [0, 1.042], "nice": false, "zero": false},
                   "axis": {"orient": "left", "title": null, "ticks": false, "labels": false}},
             "color": {"field": "s", "type": "nominal", "scale": {"domain": ["310 nm","340 nm","370 nm","440 nm"], "range": ["#A6285C","#1B2A84","#1D7A3B","#E5293A"]}, "legend": null}
           }},
          {"data": {"values": [{}]},
           "mark": {"type": "rule", "color": "#111111", "strokeWidth": 2.5},
           "encoding": {"y": {"datum": 1.042, "type": "quantitative", "scale": {"domain": [0, 1.042], "nice": false, "zero": false},
                   "axis": {"orient": "left", "title": null, "ticks": false, "labels": false}}}},
          {"data": {"values": [{}]},
           "mark": {"type": "rule", "color": "#111111", "strokeWidth": 2.5},
           "encoding": {"x": {"datum": 61.9, "type": "quantitative", "scale": {"domain": [-4.23, 61.9], "nice": false, "zero": false},
                   "axis": {"orient": "bottom", "title": null, "values": [-2,0,2,4,6,8,10,12,14,16,18,20,22,24,26,28,30,32,34,36,38,40,42,44,46,48,50,52,54,56,58,60], "labelExpr": "datum.value % 10 == 0 ? format(datum.value, 'd') : ''", "ticks": true, "tickOpacity": 1, "tickSize": {"condition": {"test": "datum.value % 10 == 0", "value": -17}, "value": -9}, "labelPadding": 30, "labelFontSize": 28, "labelOverlap": false}}}},
          {"data": {"name": "labels"},
           "transform": [{"filter": "datum.p == 'B' && datum.k == 'letter'"}],
           "mark": {"type": "text", "font": "Liberation Sans", "fontWeight": "bold", "fontSize": 32, "color": "#111111", "align": "center", "baseline": "middle"},
           "encoding": {
             "x": {"field": "t", "type": "quantitative", "scale": {"domain": [-4.23, 61.9], "nice": false, "zero": false},
                   "axis": {"orient": "bottom", "title": null, "values": [-2,0,2,4,6,8,10,12,14,16,18,20,22,24,26,28,30,32,34,36,38,40,42,44,46,48,50,52,54,56,58,60], "labelExpr": "datum.value % 10 == 0 ? format(datum.value, 'd') : ''", "ticks": true, "tickOpacity": 1, "tickSize": {"condition": {"test": "datum.value % 10 == 0", "value": -17}, "value": -9}, "labelPadding": 30, "labelFontSize": 28, "labelOverlap": false}},
             "y": {"field": "v", "type": "quantitative", "scale": {"domain": [0, 1.042], "nice": false, "zero": false},
                   "axis": {"orient": "left", "title": null, "ticks": false, "labels": false}},
             "text": {"field": "txt"}
           }},
          {"data": {"name": "labels"},
           "transform": [{"filter": "datum.p == 'B' && datum.k == 'wl'"}],
           "mark": {"type": "text", "font": "Liberation Serif", "fontSize": 26, "align": "center", "baseline": "middle"},
           "encoding": {
             "x": {"field": "t", "type": "quantitative", "scale": {"domain": [-4.23, 61.9], "nice": false, "zero": false},
                   "axis": {"orient": "bottom", "title": null, "values": [-2,0,2,4,6,8,10,12,14,16,18,20,22,24,26,28,30,32,34,36,38,40,42,44,46,48,50,52,54,56,58,60], "labelExpr": "datum.value % 10 == 0 ? format(datum.value, 'd') : ''", "ticks": true, "tickOpacity": 1, "tickSize": {"condition": {"test": "datum.value % 10 == 0", "value": -17}, "value": -9}, "labelPadding": 30, "labelFontSize": 28, "labelOverlap": false}},
             "y": {"field": "v", "type": "quantitative", "scale": {"domain": [0, 1.042], "nice": false, "zero": false},
                   "axis": {"orient": "left", "title": null, "ticks": false, "labels": false}},
             "text": {"field": "txt"},
             "color": {"field": "s", "type": "nominal", "scale": {"domain": ["310 nm","340 nm","370 nm","440 nm"], "range": ["#A6285C","#1B2A84","#1D7A3B","#E5293A"]}, "legend": null}
           }}
        ]
      },
      {
        "width": 616, "height": 250,
        "layer": [
          {"data": {"name": "c_pts"},
           "mark": {"type": "point", "filled": true, "strokeWidth": 1.6, "opacity": 1, "size": 70},
           "encoding": {
             "x": {"field": "t", "type": "quantitative", "scale": {"domain": [-4.2, 61.2], "nice": false, "zero": false},
                   "axis": {"orient": "bottom", "title": null, "values": [-2,0,2,4,6,8,10,12,14,16,18,20,22,24,26,28,30,32,34,36,38,40,42,44,46,48,50,52,54,56,58,60], "labelExpr": "datum.value % 10 == 0 ? format(datum.value, 'd') : ''", "ticks": true, "tickOpacity": 1, "tickSize": {"condition": {"test": "datum.value % 10 == 0", "value": -17}, "value": -9}, "labelPadding": 30, "labelFontSize": 28, "labelOverlap": false}},
             "y": {"field": "v", "type": "quantitative", "scale": {"domain": [0, 1.042], "nice": false, "zero": false},
                   "axis": {"orient": "left", "title": null, "ticks": false, "labels": false}},
             "shape": {"field": "s", "type": "nominal", "scale": {"domain": ["310 nm","340 nm","370 nm","440 nm"], "range": ["circle","triangle-up","square","diamond"]}, "legend": null},
             "fill": {"field": "s", "type": "nominal", "scale": {"domain": ["310 nm","340 nm","370 nm","440 nm"], "range": ["#FFFFFF","#DCEEF8","#E4F2C2","#FFFFFF"]}, "legend": null},
             "stroke": {"field": "s", "type": "nominal", "scale": {"domain": ["310 nm","340 nm","370 nm","440 nm"], "range": ["#C0305E","#1B2E8C","#2C7F3A","#E83040"]}, "legend": null}
           }},
          {"data": {"name": "c_fit"},
           "mark": {"type": "line", "strokeWidth": 3, "interpolate": "monotone"},
           "encoding": {
             "x": {"field": "t", "type": "quantitative", "scale": {"domain": [-4.2, 61.2], "nice": false, "zero": false},
                   "axis": {"orient": "bottom", "title": null, "values": [-2,0,2,4,6,8,10,12,14,16,18,20,22,24,26,28,30,32,34,36,38,40,42,44,46,48,50,52,54,56,58,60], "labelExpr": "datum.value % 10 == 0 ? format(datum.value, 'd') : ''", "ticks": true, "tickOpacity": 1, "tickSize": {"condition": {"test": "datum.value % 10 == 0", "value": -17}, "value": -9}, "labelPadding": 30, "labelFontSize": 28, "labelOverlap": false}},
             "y": {"field": "v", "type": "quantitative", "scale": {"domain": [0, 1.042], "nice": false, "zero": false},
                   "axis": {"orient": "left", "title": null, "ticks": false, "labels": false}},
             "color": {"field": "s", "type": "nominal", "scale": {"domain": ["310 nm","340 nm","370 nm","440 nm"], "range": ["#A6285C","#1B2A84","#1D7A3B","#E5293A"]}, "legend": null}
           }},
          {"data": {"values": [{}]},
           "mark": {"type": "rule", "color": "#111111", "strokeWidth": 2.5},
           "encoding": {"y": {"datum": 1.042, "type": "quantitative", "scale": {"domain": [0, 1.042], "nice": false, "zero": false},
                   "axis": {"orient": "left", "title": null, "ticks": false, "labels": false}}}},
          {"data": {"name": "labels"},
           "transform": [{"filter": "datum.p == 'C' && datum.k == 'letter'"}],
           "mark": {"type": "text", "font": "Liberation Sans", "fontWeight": "bold", "fontSize": 32, "color": "#111111", "align": "center", "baseline": "middle"},
           "encoding": {
             "x": {"field": "t", "type": "quantitative", "scale": {"domain": [-4.2, 61.2], "nice": false, "zero": false},
                   "axis": {"orient": "bottom", "title": null, "values": [-2,0,2,4,6,8,10,12,14,16,18,20,22,24,26,28,30,32,34,36,38,40,42,44,46,48,50,52,54,56,58,60], "labelExpr": "datum.value % 10 == 0 ? format(datum.value, 'd') : ''", "ticks": true, "tickOpacity": 1, "tickSize": {"condition": {"test": "datum.value % 10 == 0", "value": -17}, "value": -9}, "labelPadding": 30, "labelFontSize": 28, "labelOverlap": false}},
             "y": {"field": "v", "type": "quantitative", "scale": {"domain": [0, 1.042], "nice": false, "zero": false},
                   "axis": {"orient": "left", "title": null, "ticks": false, "labels": false}},
             "text": {"field": "txt"}
           }},
          {"data": {"name": "labels"},
           "transform": [{"filter": "datum.p == 'C' && datum.k == 'wl'"}],
           "mark": {"type": "text", "font": "Liberation Serif", "fontSize": 26, "align": "center", "baseline": "middle"},
           "encoding": {
             "x": {"field": "t", "type": "quantitative", "scale": {"domain": [-4.2, 61.2], "nice": false, "zero": false},
                   "axis": {"orient": "bottom", "title": null, "values": [-2,0,2,4,6,8,10,12,14,16,18,20,22,24,26,28,30,32,34,36,38,40,42,44,46,48,50,52,54,56,58,60], "labelExpr": "datum.value % 10 == 0 ? format(datum.value, 'd') : ''", "ticks": true, "tickOpacity": 1, "tickSize": {"condition": {"test": "datum.value % 10 == 0", "value": -17}, "value": -9}, "labelPadding": 30, "labelFontSize": 28, "labelOverlap": false}},
             "y": {"field": "v", "type": "quantitative", "scale": {"domain": [0, 1.042], "nice": false, "zero": false},
                   "axis": {"orient": "left", "title": null, "ticks": false, "labels": false}},
             "text": {"field": "txt"},
             "color": {"field": "s", "type": "nominal", "scale": {"domain": ["310 nm","340 nm","370 nm","440 nm"], "range": ["#A6285C","#1B2A84","#1D7A3B","#E5293A"]}, "legend": null}
           }}
        ]
      }
    ]
  }
]
}
